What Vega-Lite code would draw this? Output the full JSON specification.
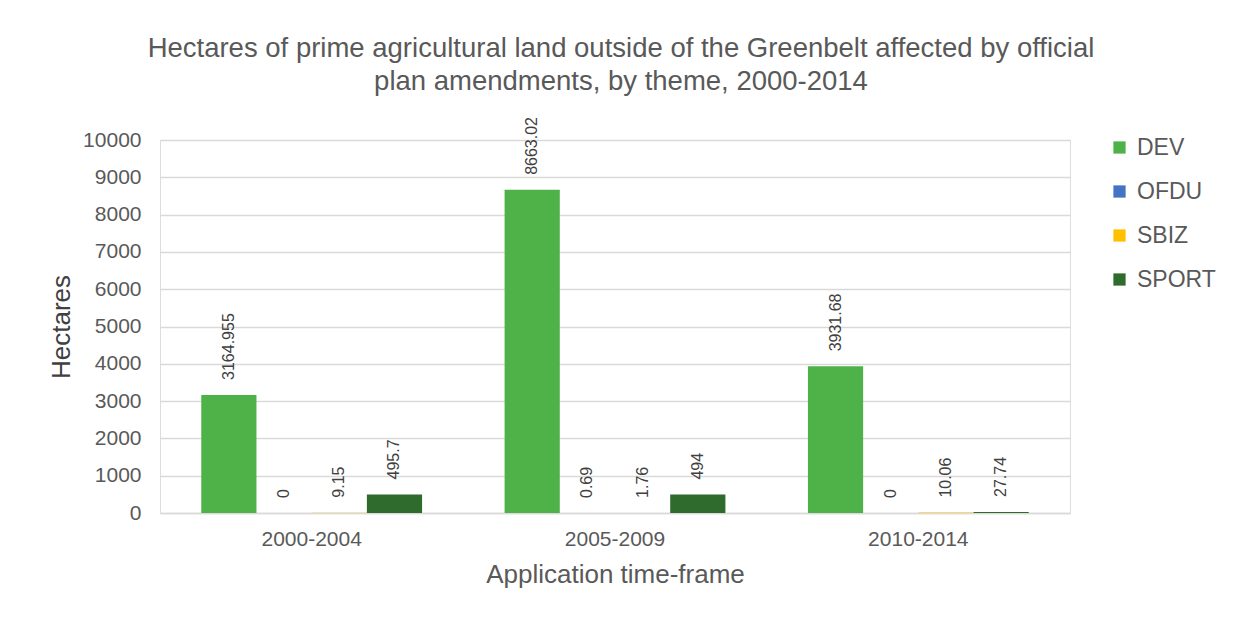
{
  "$schema": "https://vega.github.io/schema/vega-lite/v6.json",
  "width": 910,
  "height": 373,
  "autosize": {"type": "none"},
  "padding": {"left": 160, "top": 140, "right": 171, "bottom": 107},
  "background": "white",
  "title": {
    "text": [
      "Hectares of prime agricultural land outside of the Greenbelt affected by official",
      "plan amendments, by theme, 2000-2014"
    ],
    "font": "Liberation Sans",
    "fontSize": 27.5,
    "fontWeight": "normal",
    "color": "#595959",
    "lineHeight": 33,
    "offset": 22,
    "anchor": "middle",
    "dx": 6
  },
  "data": {
    "values": [
      {"timeframe": "2000-2004", "theme": "DEV", "hectares": 3164.955},
      {"timeframe": "2000-2004", "theme": "OFDU", "hectares": 0},
      {"timeframe": "2000-2004", "theme": "SBIZ", "hectares": 9.15},
      {"timeframe": "2000-2004", "theme": "SPORT", "hectares": 495.7},
      {"timeframe": "2005-2009", "theme": "DEV", "hectares": 8663.02},
      {"timeframe": "2005-2009", "theme": "OFDU", "hectares": 0.69},
      {"timeframe": "2005-2009", "theme": "SBIZ", "hectares": 1.76},
      {"timeframe": "2005-2009", "theme": "SPORT", "hectares": 494},
      {"timeframe": "2010-2014", "theme": "DEV", "hectares": 3931.68},
      {"timeframe": "2010-2014", "theme": "OFDU", "hectares": 0},
      {"timeframe": "2010-2014", "theme": "SBIZ", "hectares": 10.06},
      {"timeframe": "2010-2014", "theme": "SPORT", "hectares": 27.74}
    ]
  },
  "encoding": {
    "x": {
      "field": "timeframe",
      "type": "nominal",
      "title": "Application time-frame",
      "scale": {"paddingInner": 0.272, "paddingOuter": 0.136},
      "axis": {
        "labelAngle": 0,
        "labelFont": "Liberation Sans",
        "labelFontSize": 21,
        "labelColor": "#595959",
        "labelPadding": 15,
        "ticks": false,
        "domain": true,
        "domainColor": "#d9d9d9",
        "domainWidth": 1.5,
        "titleFont": "Liberation Sans",
        "titleFontSize": 26,
        "titleFontWeight": "normal",
        "titleColor": "#595959",
        "titlePadding": 12
      }
    },
    "xOffset": {
      "field": "theme",
      "type": "nominal",
      "sort": ["DEV", "OFDU", "SBIZ", "SPORT"],
      "scale": {"paddingInner": 0, "paddingOuter": 0}
    },
    "y": {
      "field": "hectares",
      "type": "quantitative",
      "title": "Hectares",
      "scale": {"domain": [0, 10000], "nice": false},
      "axis": {
        "values": [0, 1000, 2000, 3000, 4000, 5000, 6000, 7000, 8000, 9000, 10000],
        "format": "d",
        "labelFont": "Liberation Sans",
        "labelFontSize": 21,
        "labelColor": "#595959",
        "labelPadding": 19,
        "ticks": false,
        "domain": false,
        "grid": true,
        "gridColor": "#d9d9d9",
        "gridWidth": 1.5,
        "titleFont": "Liberation Sans",
        "titleFontSize": 26,
        "titleFontWeight": "normal",
        "titleColor": "#404040",
        "titlePadding": 8
      }
    }
  },
  "layer": [
    {
      "mark": {"type": "bar"},
      "encoding": {
        "color": {
          "field": "theme",
          "type": "nominal",
          "scale": {
            "domain": ["DEV", "OFDU", "SBIZ", "SPORT"],
            "range": ["#4fb249", "#4472c4", "#ffc000", "#2f6b2c"]
          },
          "legend": {
            "title": null,
            "orient": "none",
            "legendX": 948,
            "legendY": -4,
            "symbolType": "square",
            "symbolSize": 150,
            "symbolStrokeWidth": 0,
            "labelFont": "Liberation Sans",
            "labelFontSize": 23,
            "labelColor": "#595959",
            "labelOffset": 6,
            "rowPadding": 20,
            "padding": 0
          }
        }
      }
    },
    {
      "mark": {
        "type": "text",
        "angle": 270,
        "align": "left",
        "baseline": "middle",
        "dx": 15,
        "font": "Liberation Sans",
        "fontSize": 16,
        "color": "#404040"
      },
      "encoding": {
        "text": {"field": "hectares", "type": "quantitative"}
      }
    }
  ]
}
